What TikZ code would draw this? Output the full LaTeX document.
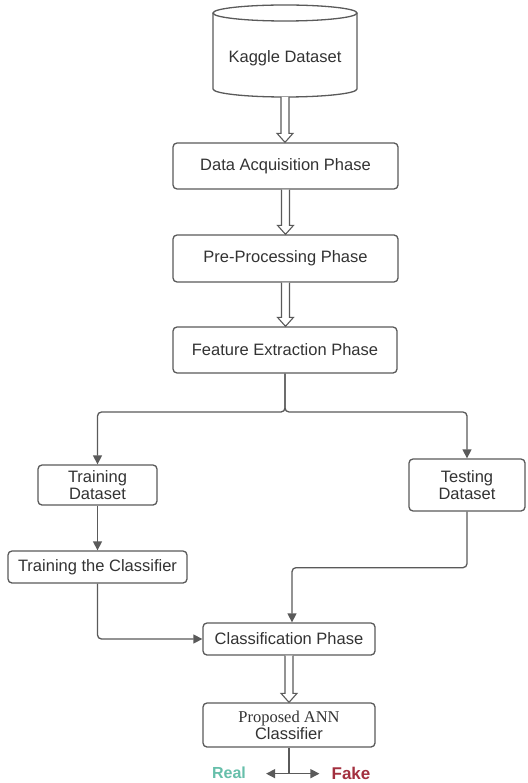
\documentclass[tikz,border=0pt]{standalone}
\usepackage{fontspec}
\setmainfont{Liberation Sans}
\newfontfamily\serifl{Liberation Serif}
\usetikzlibrary{arrows.meta,calc}
\definecolor{ln}{HTML}{5A5A5A}
\definecolor{tx}{HTML}{333333}
\definecolor{realc}{HTML}{66BFAA}
\definecolor{fakec}{HTML}{A3303F}
\newcommand\harrow[2]{\draw[ln, line width=1.1pt, fill=white, line join=miter] let \p1=(#1), \p2=(#2) in (\x1-4pt,\y1) -- (\x1-4pt,\y2+9pt) -- (\x1-8pt,\y2+9pt) -- (\x1,\y2) -- (\x1+8pt,\y2+9pt) -- (\x1+4pt,\y2+9pt) -- (\x1+4pt,\y1);}
\begin{document}
\begin{tikzpicture}[x=1pt,y=-1pt,
  box/.style={draw=ln, line width=1.3pt, rounded corners=4pt, text=tx, align=center, font=\fontsize{16.5}{17}\selectfont, inner sep=0pt},
  conn/.style={draw=ln, line width=1.3pt, rounded corners=4pt, -{Triangle[length=9pt,width=9pt]}},
]
\useasboundingbox (0,0) rectangle (527,783);
\fill[white] (0,0) rectangle (527,783);

% cylinder
\draw[ln, line width=1.3pt, fill=white] (213,13) -- (213,89) arc[start angle=180,end angle=360,x radius=72pt,y radius=8pt] -- (357,13);
\draw[ln, line width=1.3pt] (285,13) ellipse [x radius=72pt, y radius=8pt];
\node[text=tx, font=\fontsize{16.5}{17}\selectfont] (kaggle) at (285,58) {Kaggle Dataset};
\coordinate (kb) at (285,97);

\node[box, minimum width=225pt, minimum height=46pt] (acq) at (285.5,166) {Data Acquisition Phase};
\node[box, minimum width=225pt, minimum height=47pt] (pre) at (285.5,258.5) {Pre-Processing Phase};
\node[box, minimum width=224pt, minimum height=46pt] (feat) at (285,350) {Feature Extraction Phase};
\node[box, minimum width=119pt, minimum height=40pt] (train) at (97.5,485) {Training\\Dataset};
\node[box, minimum width=116pt, minimum height=52pt] (test) at (467,485) {Testing\\Dataset};
\node[box, minimum width=179pt, minimum height=32pt] (trainc) at (97.5,567) {Training the Classifier};
\node[box, minimum width=172pt, minimum height=32pt] (cls) at (289,639) {Classification Phase};
\node[box, minimum width=172pt, minimum height=44pt] (ann) at (289,725) {{\serifl Proposed ANN}\\Classifier};

\harrow{kb}{acq.north}
\harrow{acq.south}{pre.north}
\harrow{pre.south}{feat.north}
\harrow{cls.south}{ann.north}

\coordinate (sp) at (285,412);
\draw[conn] (feat.south) -- (sp) -| (train.north);
\draw[conn] (feat.south) -- (sp) -| (test.north);
\draw[conn] (train.south) -- (trainc.north);
\draw[conn] (trainc.south) |- (cls.west);
\draw[conn] (test.south) -- ++(0,56) -| ([xshift=3pt]cls.north);

\node[font=\bfseries\fontsize{16}{18}\selectfont, text=realc, inner xsep=20pt] (real) at (229,773) {Real};
\node[font=\bfseries\fontsize{17}{18}\selectfont, text=fakec, inner xsep=12pt] (fake) at (351,773) {Fake};
\draw[ln, line width=1.3pt] (ann.south) -- ++(0,26) coordinate (sp2);
\draw[conn] (sp2) -- (real.east |- sp2);
\draw[conn] (sp2) -- (fake.west |- sp2);
\end{tikzpicture}
\end{document}
